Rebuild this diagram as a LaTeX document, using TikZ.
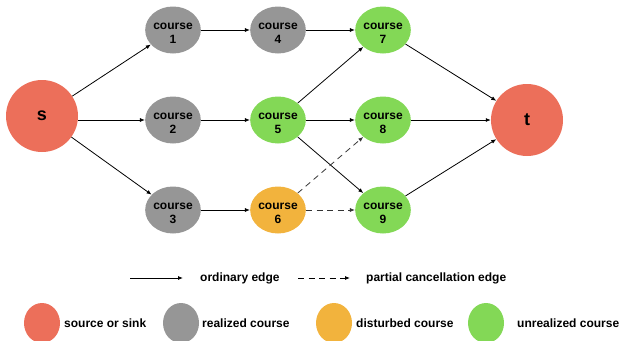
\documentclass[tikz,border=0pt]{standalone}
\usepackage{fontspec}
\setmainfont{Liberation Sans}
\usetikzlibrary{shapes.geometric,arrows.meta}
\definecolor{cred}{RGB}{236,111,90}
\definecolor{cgray}{RGB}{150,150,150}
\definecolor{corange}{RGB}{242,179,61}
\definecolor{cgreen}{RGB}{131,216,86}
\newcommand\crslabel[1]{\raisebox{-3.5pt}[\height][\depth]{\begin{tabular}{@{}c@{}}course\\[-1pt]#1\end{tabular}}}
\tikzset{
  course/.style={ellipse,minimum width=52pt,minimum height=47pt,inner sep=0pt,font=\fontsize{12}{14.5}\selectfont\bfseries},
  endpt/.style={circle,fill=cred,minimum size=72pt,inner sep=0pt,font=\fontsize{18}{20}\selectfont\bfseries},
  legdot/.style={ellipse,minimum width=36pt,minimum height=40pt,inner sep=0pt},
  legtxt/.style={anchor=west,inner sep=0pt,font=\fontsize{12}{14}\selectfont\bfseries},
  edge/.style={-{Latex[length=5pt,width=4pt]},line width=0.8pt},
  dedge/.style={edge,dashed,dash pattern=on 6pt off 4.5pt,black!80}
}
\begin{document}
\begin{tikzpicture}[x=1pt,y=-1pt]
\useasboundingbox (0,0) rectangle (621,340);
\node[endpt] (s) at (42,116) {s};
\node[endpt] (t) at (527,120) {t};
\node[course,fill=cgray] (c1) at (173,30) {\crslabel{1}};
\node[course,fill=cgray] (c4) at (278,30) {\crslabel{4}};
\node[course,fill=cgreen] (c7) at (383,30) {\crslabel{7}};
\node[course,fill=cgray] (c2) at (173,120) {\crslabel{2}};
\node[course,fill=cgreen] (c5) at (278,120) {\crslabel{5}};
\node[course,fill=cgreen] (c8) at (383,120) {\crslabel{8}};
\node[course,fill=cgray] (c3) at (173,210) {\crslabel{3}};
\node[course,fill=corange] (c6) at (278,210) {\crslabel{6}};
\node[course,fill=cgreen] (c9) at (383,210) {\crslabel{9}};
\draw[edge] (s) -- (c1);
\draw[edge] (s.east |- c2) -- (c2);
\draw[edge] (s) -- (c3);
\draw[edge] (c1) -- (c4);
\draw[edge] (c2) -- (c5);
\draw[edge] (c3) -- (c6);
\draw[edge] (c4) -- (c7);
\draw[edge] (c5) -- (c7);
\draw[edge] (c5) -- (c8);
\draw[edge] (c5) -- (c9);
\draw[dedge] (c6) -- (c8);
\draw[dedge] (c6) -- (c9);
\draw[edge] (c7) -- (t);
\draw[edge] (c8) -- (t);
\draw[edge] (c9) -- (t);
% legend
\coordinate (la1) at (130,278);
\coordinate (la2) at (183,278);
\draw[edge] (la1) -- (la2);
\node[legtxt] (lt1) at (200,278) {ordinary edge};
\coordinate (lb1) at (298,278);
\coordinate (lb2) at (350,278);
\draw[dedge,black] (lb1) -- (lb2);
\node[legtxt] (lt2) at (366,278) {partial cancellation edge};
\node[legdot,fill=cred] (d1) at (42,323) {};
\node[legtxt] (l1) at (64,323) {source or sink};
\node[legdot,fill=cgray] (d2) at (181,323) {};
\node[legtxt] (l2) at (202,323) {realized course};
\node[legdot,fill=corange] (d3) at (334,323) {};
\node[legtxt] (l3) at (356,323) {disturbed course};
\node[legdot,fill=cgreen] (d4) at (486,323) {};
\node[legtxt] (l4) at (517,323) {unrealized course};
\end{tikzpicture}
\end{document}
